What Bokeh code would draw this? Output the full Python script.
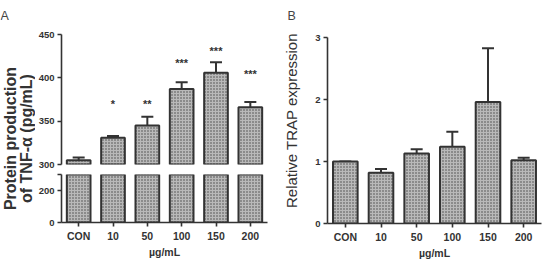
import math
from bokeh.plotting import figure
from bokeh.layouts import row, column
from bokeh.models import (Range1d, FactorRange, FixedTicker, Whisker, TeeHead,
                          ColumnDataSource)
from bokeh.core.properties import value
from bokeh.embed import file_html
from bokeh.resources import INLINE

# ---------------- data ----------------
categories = ["CON", "10", "50", "100", "150", "200"]
tnf_mean = [305, 331, 345, 387, 406, 366]
tnf_err = [3, 2, 10, 8, 12, 6]
sig_cats = ["10", "50", "100", "150", "200"]
sig_text = ["*", "**", "***", "***", "***"]
sig_y = [370, 370, 417, 431, 404]
trap_mean = [1.0, 0.82, 1.13, 1.24, 1.96, 1.02]
trap_err = [0.0, 0.06, 0.07, 0.24, 0.87, 0.04]
upper_ticks = [300, 350, 400, 450]
lower_ticks = [0, 200]
trap_ticks = [0, 1, 2, 3]
x_title = "µg/mL"
ylabel_a = ["Protein production", "of TNF-α (pg/mL)"]
ylabel_b = "Relative TRAP expression"
panel_letters = ["A", "B"]

FONT = "Liberation Sans"
DARK = "#333333"
BAR_FILL = "#b9b9b9"

UPPER_RANGE = (300, 450)
LOWER_RANGE = (0, 300)
TRAP_AXIS = (0, 3)
TRAP_VIEW_TOP = 3.6      # headroom above the axis top (panel letter area)
BOTTOM_BORDER = 38
FRAME_BOTTOM = 261 - BOTTOM_BORDER


def base_fig(**kw):
    p = figure(toolbar_location=None, output_backend="svg", title=None, **kw)
    p.grid.visible = False
    p.outline_line_color = None
    p.background_fill_color = "white"
    p.border_fill_color = "white"
    return p


def style_axis(ax):
    ax.axis_line_color = DARK
    ax.axis_line_width = 1.6
    ax.major_tick_line_color = DARK
    ax.major_tick_line_width = 1.6
    ax.major_tick_out = 4
    ax.major_tick_in = 0
    ax.minor_tick_line_color = None
    ax.major_label_text_font = FONT
    ax.major_label_text_font_style = "bold"
    ax.major_label_text_font_size = "9.5px"
    ax.major_label_text_color = DARK
    ax.major_label_standoff = 3
    ax.axis_label_text_font = FONT
    ax.axis_label_text_font_style = "bold"
    ax.axis_label_text_font_size = "10.5px"
    ax.axis_label_text_color = DARK
    ax.axis_label_standoff = 1


def bars(p, source, top_field, bottom=0):
    p.vbar(x="cat", top=top_field, bottom=bottom, width=0.69, source=source,
           fill_color=BAR_FILL, line_color=DARK, line_width=2,
           hatch_pattern="dot", hatch_color="#444444", hatch_scale=3,
           hatch_weight=1.2)


def label_fig(width):
    # pixel-like coordinates measured from the top of the picture
    p = base_fig(width=width, height=261, x_range=Range1d(0, width),
                 y_range=Range1d(FRAME_BOTTOM, 0), min_border_left=0,
                 min_border_right=0, min_border_top=0,
                 min_border_bottom=BOTTOM_BORDER)
    p.axis.visible = False
    return p


# ---------------- panel A ----------------
src_a = ColumnDataSource(dict(cat=categories, mean=tnf_mean,
                              upper=[m + e for m, e in zip(tnf_mean, tnf_err)]))

upper = base_fig(width=235, height=169,
                 x_range=FactorRange(*categories, range_padding=0),
                 y_range=Range1d(*UPPER_RANGE),
                 min_border_left=23, min_border_right=3,
                 min_border_top=34, min_border_bottom=5)
bars(upper, src_a, "mean")
upper.add_layout(Whisker(base="cat", lower="mean", upper="upper", source=src_a,
                         line_color=DARK, line_width=2,
                         upper_head=TeeHead(size=12, line_color=DARK, line_width=2),
                         lower_head=None))
upper.text(x=sig_cats, y=sig_y, text=sig_text, text_align="center",
           text_baseline="middle", text_font_size="11px",
           text_font_style="bold", text_color=DARK, text_font=value(FONT))
upper.xaxis.visible = False
upper.yaxis.ticker = FixedTicker(ticks=upper_ticks)
style_axis(upper.yaxis[0])

lower = base_fig(width=235, height=92,
                 x_range=upper.x_range,
                 y_range=Range1d(*LOWER_RANGE),
                 min_border_left=23, min_border_right=3,
                 min_border_top=5, min_border_bottom=39)
bars(lower, src_a, "mean")
lower.yaxis.ticker = FixedTicker(ticks=lower_ticks + [LOWER_RANGE[1]])
lower.yaxis.major_label_overrides = {LOWER_RANGE[1]: ""}
style_axis(lower.yaxis[0])
style_axis(lower.xaxis[0])
lower.xaxis.axis_label = x_title
lower.xaxis.major_label_text_font_size = "10.5px"

# text column for panel A (letter + two-line y title)
lab_a = label_fig(35)
lab_a.text(x=[0], y=[15.5], text=[panel_letters[0]], text_align="left",
           text_baseline="alphabetic", text_font=value(FONT),
           text_font_size="12.5px", text_color="#444444")
lab_a.text(x=[9.5, 25.5], y=[138, 138], text=ylabel_a, angle=math.pi / 2,
           text_align="center", text_baseline="middle",
           text_font=value(FONT), text_font_style="bold",
           text_font_size="16px", text_color=DARK)

# ---------------- panel B ----------------
src_b = ColumnDataSource(dict(cat=categories, mean=trap_mean,
                              upper=[m + e for m, e in zip(trap_mean, trap_err)]))
pb = base_fig(width=236, height=261,
              x_range=FactorRange(*categories, range_padding=0),
              y_range=Range1d(TRAP_AXIS[0], TRAP_VIEW_TOP),
              min_border_left=21, min_border_right=1,
              min_border_top=0, min_border_bottom=BOTTOM_BORDER)
bars(pb, src_b, "mean")
pb.add_layout(Whisker(base="cat", lower="mean", upper="upper", source=src_b,
                      line_color=DARK, line_width=2,
                      upper_head=TeeHead(size=12, line_color=DARK, line_width=2),
                      lower_head=None))
pb.yaxis.ticker = FixedTicker(ticks=trap_ticks)
pb.yaxis.bounds = TRAP_AXIS
style_axis(pb.yaxis[0])
style_axis(pb.xaxis[0])
pb.xaxis.axis_label = x_title
pb.xaxis.major_label_text_font_size = "10.5px"

lab_b = label_fig(36)
lab_b.text(x=[17], y=[15.5], text=[panel_letters[1]], text_align="left",
           text_baseline="alphabetic", text_font=value(FONT),
           text_font_size="12.5px", text_color="#444444")
lab_b.text(x=[21], y=[120], text=[ylabel_b], angle=math.pi / 2,
           text_align="center", text_baseline="middle",
           text_font=value(FONT), text_font_size="15px", text_color=DARK)

layout = row(lab_a, column(upper, lower, spacing=0), lab_b, pb, spacing=0)

open("out.html", "w").write(file_html(layout, INLINE))
